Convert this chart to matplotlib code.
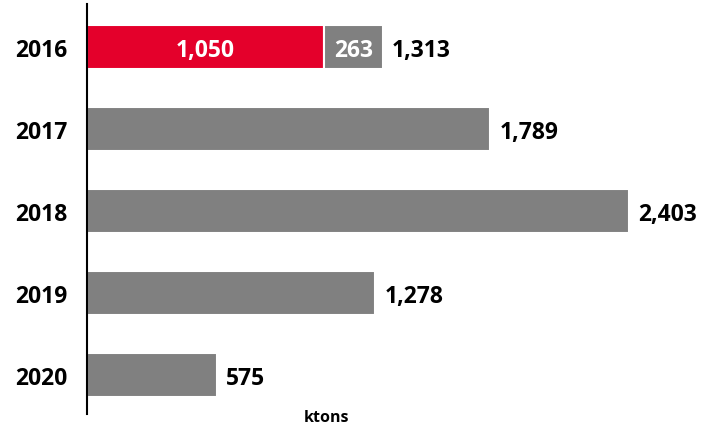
import matplotlib.pyplot as plt
import numpy as np

plt.rcParams['font.family'] = ['Open Sans', 'DejaVu Sans']

years = ['2016', '2017', '2018', '2019', '2020']
red_part = [1050, 0, 0, 0, 0]
gray_part = [263, 1789, 2403, 1278, 575]
totals = [1313, 1789, 2403, 1278, 575]

RED = '#e4002b'
GRAY = '#808080'

fig = plt.figure(figsize=(7.12, 4.27), dpi=100)
ax = fig.add_axes([0.122, 0.028, 0.878, 0.960])

y = np.arange(len(years))
h = 0.54
ax.barh(y, red_part, height=h, color=RED, edgecolor='white', linewidth=1.5)
ax.barh(y, gray_part, left=red_part, height=h, color=GRAY, edgecolor='white', linewidth=1.5)

fs = 16.5
for i in range(len(years)):
    if red_part[i] > 0:
        ax.text(red_part[i] / 2, y[i], f'{red_part[i]:,}', color='white', fontsize=fs,
                fontweight='bold', ha='center', va='center_baseline')
        ax.text(red_part[i] + gray_part[i] / 2, y[i], f'{gray_part[i]:,}', color='white',
                fontsize=fs, fontweight='bold', ha='center', va='center_baseline')
    ax.text(totals[i] + 40, y[i], f'{totals[i]:,}', color='black', fontsize=fs,
            fontweight='bold', ha='left', va='center_baseline')

ax.set_xlim(0, 2771)
ax.set_ylim(4.48, -0.52)
ax.set_yticks(y)
ax.set_yticklabels(years, fontsize=fs, fontweight='bold', va='center_baseline')
ax.tick_params(axis='y', length=0, pad=14)
ax.set_xticks([])
for s in ['top', 'right', 'bottom']:
    ax.spines[s].set_visible(False)
ax.spines['left'].set_linewidth(1.5)

fig.text(0.458, 0.022, 'ktons', fontsize=11.5, fontweight='bold', ha='center', va='center')

fig.savefig('out.png', dpi=100)
